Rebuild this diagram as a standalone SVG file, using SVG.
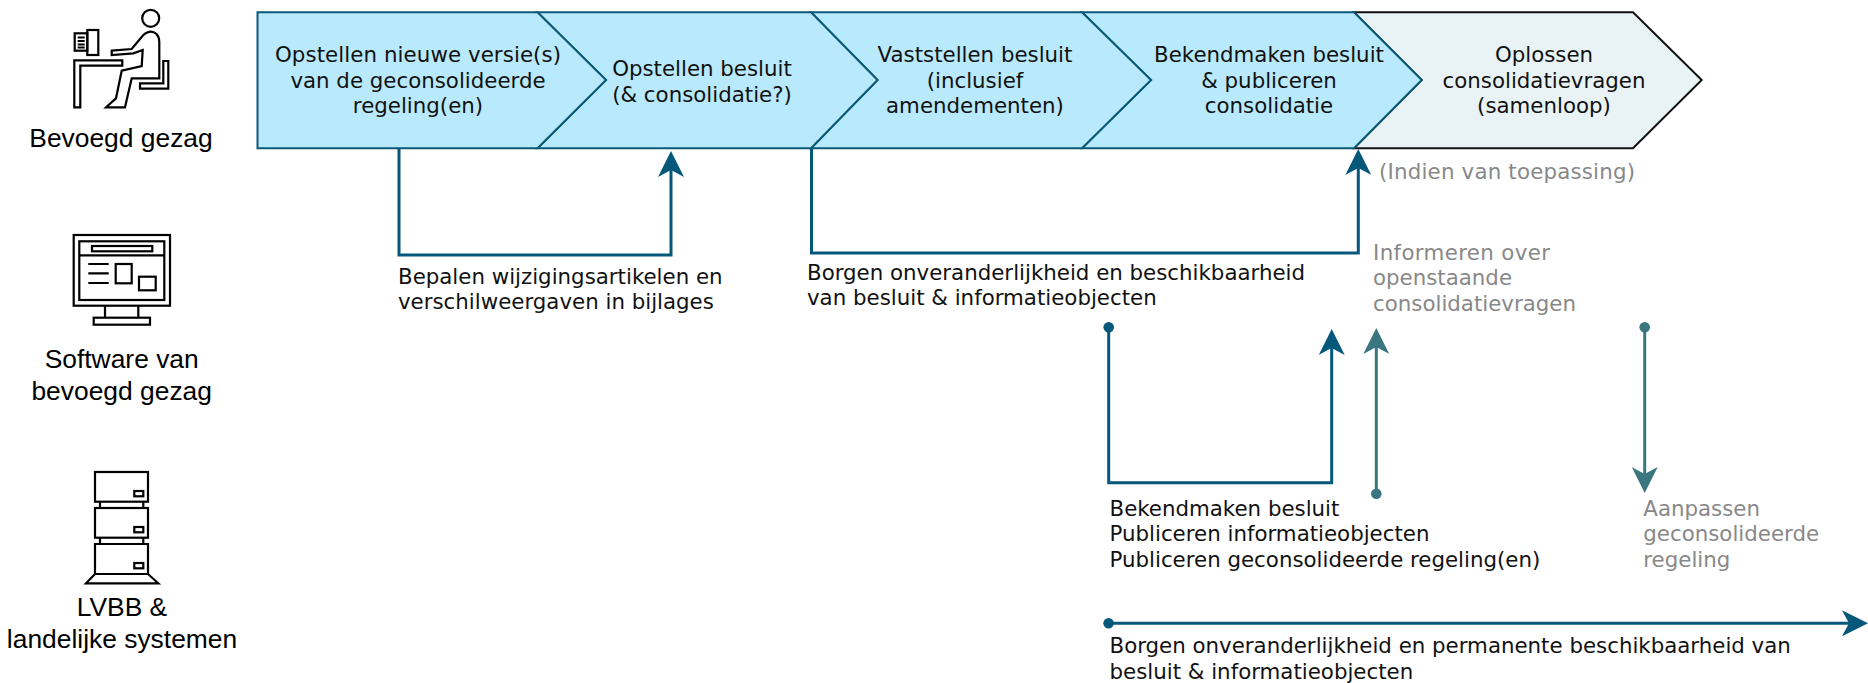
<svg xmlns="http://www.w3.org/2000/svg" width="1868" height="683" viewBox="0 0 1868 683">
<style>
text{font-family:"DejaVu Sans",Verdana,sans-serif;font-size:21.33px;fill:#111}
.l{font-family:"Liberation Sans",Arial,sans-serif;font-size:26.4px;text-anchor:middle;fill:#000}
.c{text-anchor:middle}
.g{fill:#888}
.s{fill:#b9e9fc;stroke:#0b5a78;stroke-width:2}
.o{fill:#e9f3f5;stroke:#111;stroke-width:2}
.i{fill:none;stroke:#000;stroke-width:2.2}
.w{fill:none;stroke:#05587a;stroke-width:3}
.t{fill:none;stroke:#3a7680;stroke-width:3}
</style>
<defs>
<marker id="a" markerUnits="userSpaceOnUse" markerWidth="26" markerHeight="26" viewBox="0 0 26 26" refX="7" refY="13" orient="auto"><path d="M26 13L0 0L7 13L0 26Z" fill="#05587a"/></marker>
<marker id="b" markerUnits="userSpaceOnUse" markerWidth="26" markerHeight="26" viewBox="0 0 26 26" refX="7" refY="13" orient="auto"><path d="M26 13L0 0L7 13L0 26Z" fill="#3a7680"/></marker>
<marker id="d" markerUnits="userSpaceOnUse" markerWidth="12" markerHeight="12" viewBox="0 0 12 12" refX="6" refY="6"><circle cx="6" cy="6" r="5.300" fill="#05587a"/></marker>
<marker id="e" markerUnits="userSpaceOnUse" markerWidth="12" markerHeight="12" viewBox="0 0 12 12" refX="6" refY="6"><circle cx="6" cy="6" r="5.300" fill="#3a7680"/></marker>
</defs>
<g id="actor-bevoegd-gezag">
<circle class="i" cx="150.700" cy="18.300" r="8.500"/>
<path class="i" d="M74.300 107.300V60.300H122.300V65.700H80.300V107.300Z"/>
<rect class="i" x="87.300" y="30" width="11" height="25"/>
<rect class="i" x="74.700" y="33.300" width="12.600" height="17.400"/>
<path class="i" stroke-width="1.500" d="M77.700 37.500H84.700M77.700 41H84.700M77.700 44.500H84.700M77.700 47.500H84.700"/>
<path class="i" d="M111.700 50.700L131.700 49L143.300 35Q150.700 29 156.500 34Q159.300 37 159.300 42V78.300H131.700L125 107.300H106L116 98.300L121.700 70.700L141.700 66L142.700 50L133.300 53.300L111.700 55Z"/>
<path class="i" d="M163.300 61H168.300V88.700H140V83.300H163.300Z"/>
<text class="l" x="121" y="146.700">Bevoegd gezag</text>
</g>
<g id="actor-software">
<rect class="i" x="73.700" y="235" width="96.300" height="70.700"/>
<rect class="i" x="79.300" y="241.300" width="85" height="58.700"/>
<path class="i" d="M79.300 255.300H164.300M88.300 264H108.700M88.300 273.300H108.700M88.300 283H108.700M105 305.700V317.700M138.300 305.700V317.700"/>
<rect class="i" x="92" y="246" width="60.300" height="5.300"/>
<rect class="i" x="115.700" y="264" width="16" height="19.300"/>
<rect class="i" x="139" y="276.700" width="16.700" height="13.600"/>
<rect class="i" x="93.700" y="317.700" width="56.300" height="7"/>
<text class="l" x="121.700" y="367.700">Software van</text>
<text class="l" x="121.700" y="400">bevoegd gezag</text>
</g>
<g id="actor-lvbb">
<rect class="i" x="95" y="472" width="53" height="29.700"/>
<rect class="i" x="95" y="508" width="53" height="29.700"/>
<path class="i" d="M95 574V544H148V574M100 501.700V508M143.300 501.700V508M100 537.700V544M143.300 537.700V544M95 574L86 583.300H158.300L148 574Z"/>
<rect class="i" x="134.300" y="491" width="9" height="5.300"/>
<rect class="i" x="134.300" y="527" width="9" height="5.300"/>
<rect class="i" x="134.300" y="563" width="9" height="5.300"/>
<text class="l" x="122" y="616">LVBB &amp;</text>
<text class="l" x="122" y="648">landelijke systemen</text>
</g>
<g id="step-oplossen">
<path class="o" d="M1354 12.300H1633L1701.700 80L1633 148.300H1354L1421.700 80Z"/>
<text class="c" x="1544" y="62">Oplossen</text>
<text class="c" x="1544" y="88">consolidatievragen</text>
<text class="c" x="1544" y="113">(samenloop)</text>
</g>
<g id="step-bekendmaken">
<path class="s" d="M1082 12.300H1354L1421.700 80L1354 148.300H1082L1151 80Z"/>
<text class="c" x="1269" y="62">Bekendmaken besluit</text>
<text class="c" x="1269" y="88">&amp; publiceren</text>
<text class="c" x="1269" y="113">consolidatie</text>
</g>
<g id="step-vaststellen">
<path class="s" d="M811 12.300H1082L1151 80L1082 148.300H811L877.500 80Z"/>
<text class="c" x="975" y="62">Vaststellen besluit</text>
<text class="c" x="975" y="88">(inclusief</text>
<text class="c" x="975" y="113">amendementen)</text>
</g>
<g id="step-opstellen-besluit">
<path class="s" d="M537.500 12.300H811L877.500 80L811 148.300H537.500L606 80Z"/>
<text class="c" x="702" y="76">Opstellen besluit</text>
<text class="c" x="702" y="102">(&amp; consolidatie?)</text>
</g>
<g id="step-opstellen-versie">
<path class="s" d="M257.500 12.300H537.500L606 80L537.500 148.300H257.500Z"/>
<text class="c" x="418" y="62" textLength="286">Opstellen nieuwe versie(s)</text>
<text class="c" x="418" y="88">van de geconsolideerde</text>
<text class="c" x="418" y="113">regeling(en)</text>
</g>
<g id="connectors">
<path class="w" marker-end="url(#a)" d="M399 148.300V255H671V170"/>
<path class="w" marker-end="url(#a)" d="M811.500 148.300V253H1358.300V168"/>
<path class="w" marker-start="url(#d)" marker-end="url(#a)" d="M1108.700 327.300V482.700H1331.700V348"/>
<path class="t" marker-start="url(#e)" marker-end="url(#b)" d="M1376.300 493.700V347"/>
<path class="t" marker-start="url(#e)" marker-end="url(#b)" d="M1644.700 327.300V474"/>
<path class="w" marker-start="url(#d)" marker-end="url(#a)" d="M1108.600 623.300H1849"/>
</g>
<g id="labels">
<text x="398" y="284">Bepalen wijzigingsartikelen en</text>
<text x="398" y="309">verschilweergaven in bijlages</text>
<text x="807" y="280">Borgen onveranderlijkheid en beschikbaarheid</text>
<text x="807" y="305">van besluit &amp; informatieobjecten</text>
<text class="g" x="1379" y="179" textLength="256">(Indien van toepassing)</text>
<text class="g" x="1373" y="260" textLength="177">Informeren over</text>
<text class="g" x="1373" y="285">openstaande</text>
<text class="g" x="1373" y="311">consolidatievragen</text>
<text x="1109.500" y="516">Bekendmaken besluit</text>
<text x="1109.500" y="541">Publiceren informatieobjecten</text>
<text x="1109.500" y="567">Publiceren geconsolideerde regeling(en)</text>
<text class="g" x="1643.300" y="516">Aanpassen</text>
<text class="g" x="1643.300" y="541">geconsolideerde</text>
<text class="g" x="1643.300" y="567">regeling</text>
<text x="1109.500" y="653">Borgen onveranderlijkheid en permanente beschikbaarheid van</text>
<text x="1109.500" y="679">besluit &amp; informatieobjecten</text>
</g>
</svg>
